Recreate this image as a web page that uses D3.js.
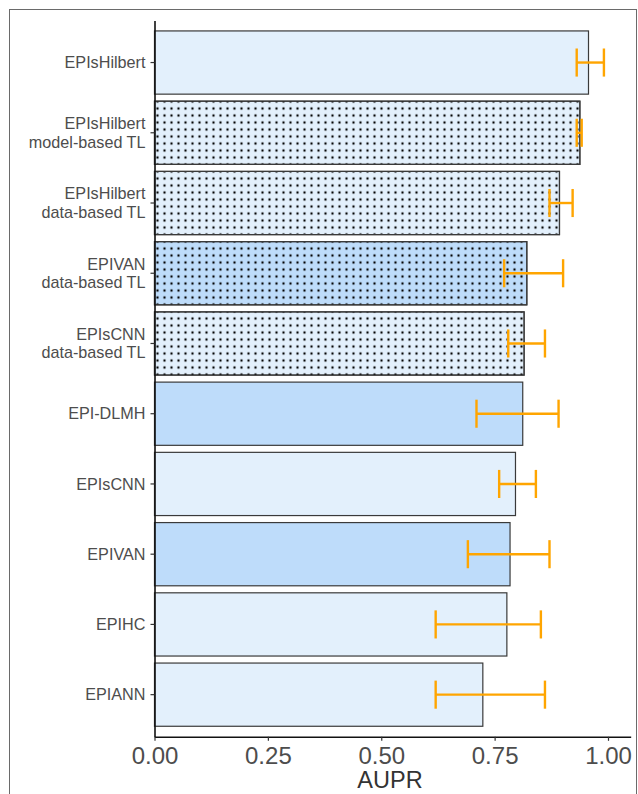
<!DOCTYPE html>
<html>
<head>
<meta charset="utf-8">
<script src="https://cdn.jsdelivr.net/npm/d3@7"></script>
<style>
  html, body { margin: 0; padding: 0; background: #fff; }
  #graph { width: 638px; height: 794px; }
  text { font-family: "Liberation Sans", Arial, sans-serif; }
</style>
</head>
<body>
<div id="graph"></div>
<script>
//カテゴリ (上から順)
var categories = [
  "EPIsHilbert",
  "EPIsHilbert\nmodel-based TL",
  "EPIsHilbert\ndata-based TL",
  "EPIVAN\ndata-based TL",
  "EPIsCNN\ndata-based TL",
  "EPI-DLMH",
  "EPIsCNN",
  "EPIVAN",
  "EPIHC",
  "EPIANN"
];
//AUPRの値
var aupr = [0.957, 0.938, 0.893, 0.821, 0.815, 0.812, 0.796, 0.784, 0.777, 0.724];
//エラーバーの下限と上限
var lower = [0.931, 0.931, 0.871, 0.771, 0.780, 0.710, 0.760, 0.691, 0.620, 0.620];
var upper = [0.991, 0.942, 0.922, 0.901, 0.861, 0.891, 0.841, 0.871, 0.852, 0.861];
//塗りのグループとドット模様の有無
var fillGroup = ["light", "light", "light", "mid", "light", "mid", "light", "mid", "light", "light"];
var dotted = [false, true, true, true, true, false, false, false, false, false];
//x軸の目盛り
var xTicks = [0, 0.25, 0.5, 0.75, 1.0];

var colors = { light: "#E3F0FC", mid: "#BEDCFA" };

var width = 638, height = 794;
var margin = { top: 20.4, left: 154.5, bottom: 57.2, right: 8 };
var chartWidth = width - margin.left - margin.right;
var chartHeight = height - margin.top - margin.bottom;

var data = categories.map(function(c, i) {
  return { name: c, value: aupr[i], lo: lower[i], hi: upper[i], group: fillGroup[i], dot: dotted[i] };
});

var svg = d3.select("#graph").append("svg")
  .attr("width", width)
  .attr("height", height);

//ドット模様
var pattern = svg.append("defs").append("pattern")
  .attr("id", "dots")
  .attr("patternUnits", "userSpaceOnUse")
  .attr("x", 157.5).attr("y", 3.5)
  .attr("width", 7).attr("height", 7);
[[0, 0], [7, 0], [0, 7], [7, 7]].forEach(function(p) {
  pattern.append("circle")
    .attr("cx", p[0]).attr("cy", p[1]).attr("r", 1.2)
    .attr("fill", "#000");
});

//外枠
svg.append("rect")
  .attr("x", 9.5).attr("y", 9.5)
  .attr("width", 627).attr("height", 800)
  .attr("fill", "none")
  .attr("stroke", "#6a6a6a")
  .attr("stroke-width", 1);

var xScale = d3.scaleLinear().domain([0, 1.05]).range([margin.left, margin.left + 1.05 * 453.5]);
var yScale = d3.scaleBand()
  .domain(categories)
  .range([margin.top, margin.top + chartHeight])
  .paddingInner(0.1)
  .paddingOuter(0.15);

var chartLayer = svg.append("g").classed("chartLayer", true);

//バー
var bar = chartLayer.selectAll(".bar").data(data).enter().append("g").classed("bar", true);

bar.append("rect")
  .attr("x", xScale(0))
  .attr("y", function(d) { return yScale(d.name); })
  .attr("width", function(d) { return xScale(d.value) - xScale(0); })
  .attr("height", yScale.bandwidth())
  .attr("fill", function(d) { return colors[d.group]; })
  .attr("stroke", "#3a3a3a")
  .attr("stroke-width", 1.2);

bar.filter(function(d) { return d.dot; })
  .append("rect")
  .attr("x", xScale(0))
  .attr("y", function(d) { return yScale(d.name); })
  .attr("width", function(d) { return xScale(d.value) - xScale(0); })
  .attr("height", yScale.bandwidth())
  .attr("fill", "url(#dots)")
  .attr("stroke", "#3a3a3a")
  .attr("stroke-width", 1.2);

//エラーバー
var capH = yScale.step() * 0.4;
var err = chartLayer.selectAll(".err").data(data).enter().append("g")
  .classed("err", true)
  .attr("stroke", "#FFA500")
  .attr("stroke-width", 2.4)
  .attr("fill", "none");

err.append("line")
  .attr("x1", function(d) { return xScale(d.lo); })
  .attr("x2", function(d) { return xScale(d.hi); })
  .attr("y1", function(d) { return yScale(d.name) + yScale.bandwidth() / 2; })
  .attr("y2", function(d) { return yScale(d.name) + yScale.bandwidth() / 2; });
["lo", "hi"].forEach(function(k) {
  err.append("line")
    .attr("x1", function(d) { return xScale(d[k]); })
    .attr("x2", function(d) { return xScale(d[k]); })
    .attr("y1", function(d) { return yScale(d.name) + yScale.bandwidth() / 2 - capH / 2; })
    .attr("y2", function(d) { return yScale(d.name) + yScale.bandwidth() / 2 + capH / 2; });
});

//軸
var axisLayer = svg.append("g").classed("axisLayer", true);

var xAxis = d3.axisBottom(xScale)
  .tickValues(xTicks)
  .tickFormat(d3.format(".2f"))
  .tickSizeInner(4)
  .tickSizeOuter(0)
  .tickPadding(6);

var gx = axisLayer.append("g")
  .attr("class", "axis x")
  .attr("transform", "translate(0," + (margin.top + chartHeight) + ")")
  .call(xAxis);
gx.select(".domain").attr("stroke", "#111").attr("stroke-width", 1.6);
gx.selectAll(".tick line").attr("stroke", "#333").attr("stroke-width", 1.2);
gx.selectAll(".tick text")
  .attr("fill", "#4d4d4d")
  .style("font-size", "24px");

var yAxis = d3.axisLeft(yScale).tickSizeInner(4).tickSizeOuter(0).tickFormat("");
var gy = axisLayer.append("g")
  .attr("class", "axis y")
  .attr("transform", "translate(" + margin.left + ",0)")
  .call(yAxis);
gy.select(".domain").attr("stroke", "#111").attr("stroke-width", 1.6);
gy.selectAll(".tick line").attr("stroke", "#333").attr("stroke-width", 1.2);

//y軸ラベル (複数行)
gy.selectAll(".tick").each(function(d) {
  var lines = d.split("\n");
  var lh = 18.6;
  var t = d3.select(this).append("text")
    .attr("x", -9)
    .attr("text-anchor", "end")
    .attr("fill", "#4d4d4d")
    .style("font-size", "16.2px");
  lines.forEach(function(s, i) {
    t.append("tspan")
      .attr("x", -9)
      .attr("y", (i - (lines.length - 1) / 2) * lh)
      .attr("dy", "0.35em")
      .text(s);
  });
});

//x軸タイトル
svg.append("text")
  .attr("x", 390)
  .attr("y", 788)
  .attr("text-anchor", "middle")
  .attr("fill", "#333")
  .style("font-size", "23.5px")
  .text("AUPR");
</script>
</body>
</html>
